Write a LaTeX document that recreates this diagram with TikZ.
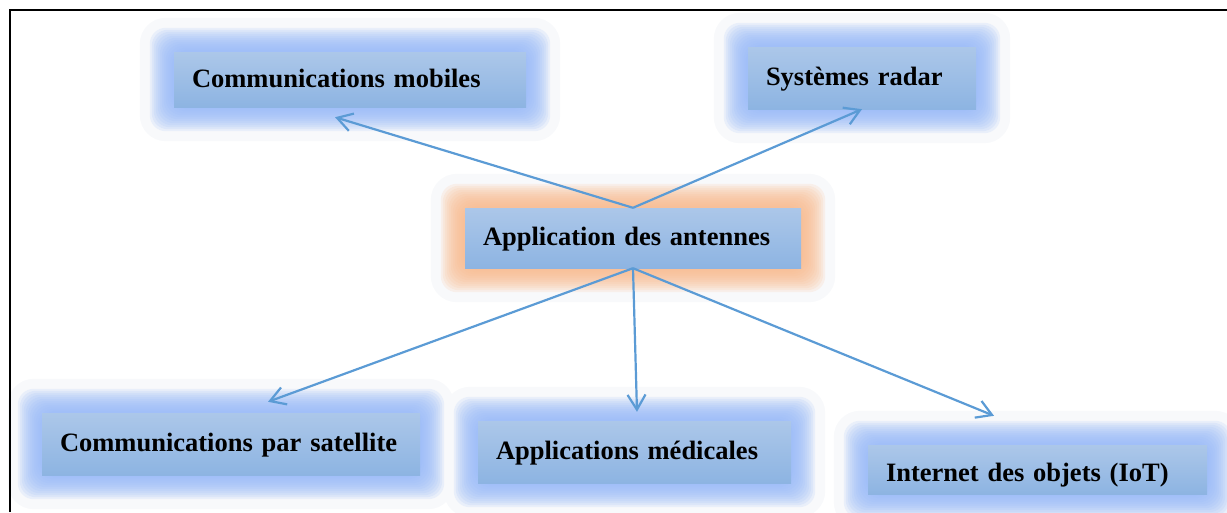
\documentclass[tikz,border=0pt]{standalone}
\usepackage{fontspec}
\setmainfont{Liberation Serif}
\usetikzlibrary{arrows.meta,backgrounds}
\definecolor{rectTop}{RGB}{172,199,233}
\definecolor{rectBot}{RGB}{141,180,226}
\definecolor{glowblue}{RGB}{150,184,248}
\definecolor{gloworange}{RGB}{248,186,140}
\definecolor{haze}{RGB}{248,249,251}
\definecolor{arrowblue}{RGB}{91,155,213}
\begin{document}
\begin{tikzpicture}[x=1pt,y=-1pt,
  appbox/.style={top color=rectTop,bottom color=rectBot,inner xsep=18pt,inner ysep=0pt,
    align=left,text height=19pt,text depth=4pt,font=\bfseries\fontsize{26.5}{30}\selectfont},
  link/.style={arrowblue,line width=2.2pt,-{Straight Barb[length=15pt,width=18pt]}}]
\useasboundingbox (0,0) rectangle (1227,512);
\draw[line width=2.5pt] (10,512) -- (10,10) -- (1227,10);
\node[appbox,text width=316pt,minimum height=55pt] (mobiles) at (350,79.5) {Communications mobiles};
\node[appbox,text width=192pt,minimum height=62pt] (radar) at (862,78) {Systèmes radar};
\node[appbox,text width=300pt,minimum height=60pt] (antennes) at (633,238) {Application des antennes};
\node[appbox,text width=342pt,minimum height=62pt] (satellite) at (231,444) {Communications par satellite};
\node[appbox,text width=277pt,minimum height=62pt] (medicales) at (634.5,452) {Applications médicales};
\node[appbox,text width=303pt,minimum height=49pt,text depth=0pt,text height=24pt] (iot) at (1037.5,469.5) {Internet des objets (IoT)};
\begin{pgfonlayer}{background}
\foreach \n in {mobiles,radar,antennes,satellite,medicales,iot}
  \fill[haze,rounded corners=26pt] ([shift={(-34,-34)}]\n.north west) rectangle ([shift={(34,34)}]\n.south east);
\foreach \n/\c in {mobiles/glowblue,radar/glowblue,antennes/gloworange,satellite/glowblue,medicales/glowblue,iot/glowblue}
  \foreach \d in {24,22,...,2}
    \fill[\c,opacity=.15,rounded corners=16pt] ([shift={(-\d,-\d)}]\n.north west) rectangle ([shift={(\d,\d)}]\n.south east);
\end{pgfonlayer}
\draw[link] (antennes.north) -- ([shift={(-15,10)}]mobiles.south);
\draw[link] (antennes.north) -- (radar.south);
\draw[link] (antennes.south) -- ([shift={(37,-11)}]satellite.north);
\draw[link] (antennes.south) -- ([shift={(2.5,-9)}]medicales.north);
\draw[link] (antennes.south) -- ([shift={(-43.5,-29)}]iot.north);
\end{tikzpicture}
\end{document}
